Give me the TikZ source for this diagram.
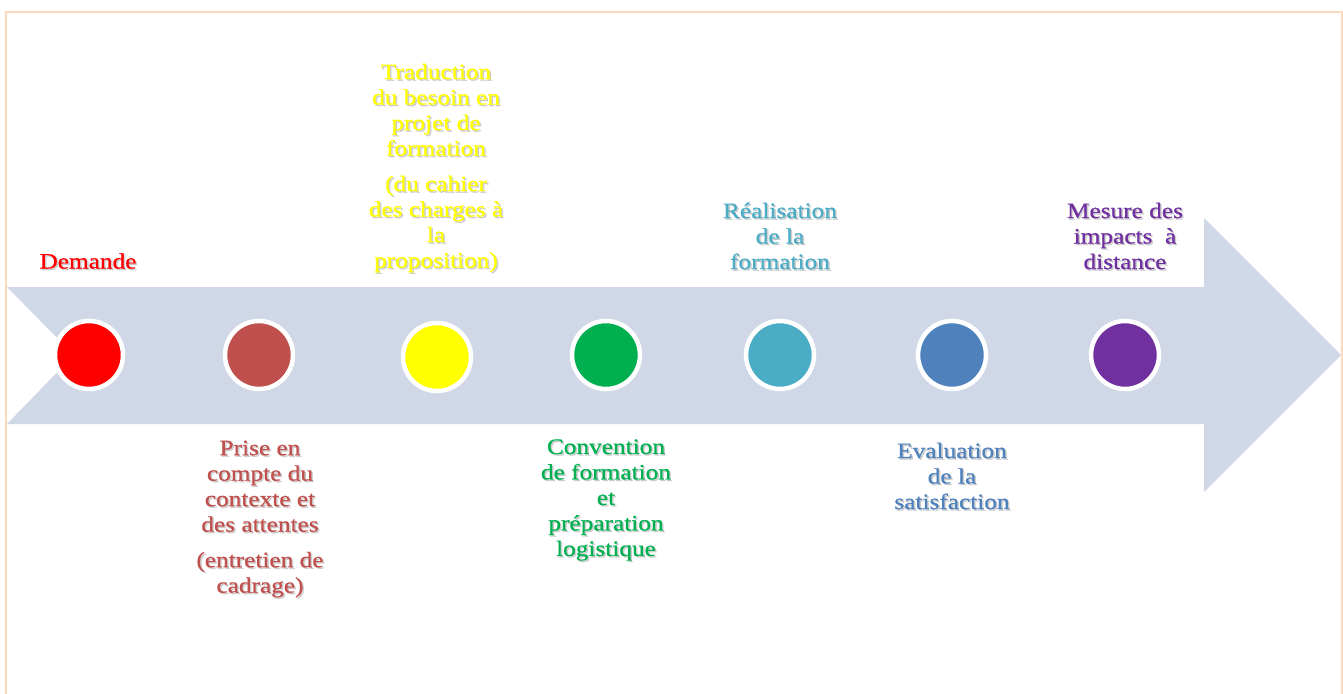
\documentclass[tikz,border=0pt]{standalone}
\usepackage{fontspec}
\setmainfont{Liberation Serif}[FakeStretch=1.15,FakeBold=0.8]
\definecolor{frame}{HTML}{FBD9BC}
\definecolor{arrowfill}{HTML}{D0D8E8}
\definecolor{cA}{HTML}{FF0000}
\definecolor{cB}{HTML}{C0504D}
\definecolor{cC}{HTML}{FFFF00}
\definecolor{cD}{HTML}{00B050}
\definecolor{cE}{HTML}{4BACC6}
\definecolor{cF}{HTML}{4F81BD}
\definecolor{cG}{HTML}{7030A0}
\tikzset{
  dot/.style={circle, minimum size=68pt, inner sep=0pt, draw=white, line width=4.5pt},
  lbl/.style={align=center, font=\fontsize{22}{25.5}\selectfont, inner sep=0pt},
  shd/.style={lbl, text=black!40, opacity=0.45}
}
\begin{document}
\begin{tikzpicture}[x=1pt,y=-1pt]
\useasboundingbox (0,0) rectangle (1343,693);
\draw[frame, line width=2.5pt] (6,760) -- (6,12) -- (1342,12) -- (1342,760);
\fill[arrowfill] (7,287) -- (1204,287) -- (1204,218) -- (1341,355) -- (1204,492) -- (1204,424) -- (7,424) -- (74,355) -- cycle;
\node[dot, fill=cA] (c1) at (89,355) {};
\node[dot, fill=cB] (c2) at (259,355) {};
\node[dot, fill=cC] (c3) at (437,357) {};
\node[dot, fill=cD] (c4) at (606,355) {};
\node[dot, fill=cE] (c5) at (780,355) {};
\node[dot, fill=cF] (c6) at (952,355) {};
\node[dot, fill=cG] (c7) at (1125,355) {};
% shadows
\node[shd] (s1) at (89.5,262.5) {Demande};
\node[shd] (s2) at (261.5,520.5) {Prise en\\compte du\\contexte et\\des attentes\\[10pt](entretien de\\cadrage)};
\node[shd] (s3) at (437.5,169.5) {Traduction\\du besoin en\\projet de\\formation\\[10pt](du cahier\\des charges à\\la\\proposition)};
\node[shd] (s4) at (607.5,501.5) {Convention\\de formation\\et\\préparation\\logistique};
\node[shd] (s5) at (781.5,237.5) {Réalisation\\de la\\formation};
\node[shd] (s6) at (953.5,477.5) {Evaluation\\de la\\satisfaction};
\node[shd] (s7) at (1126.5,237.5) {Mesure des\\impacts~ à\\distance};
% labels
\node[lbl, text=cA] (t1) at (88,261) {Demande};
\node[lbl, text=cB] (t2) at (260,519) {Prise en\\compte du\\contexte et\\des attentes\\[10pt](entretien de\\cadrage)};
\node[lbl, text=cC] (t3) at (436,168) {Traduction\\du besoin en\\projet de\\formation\\[10pt](du cahier\\des charges à\\la\\proposition)};
\node[lbl, text=cD] (t4) at (606,500) {Convention\\de formation\\et\\préparation\\logistique};
\node[lbl, text=cE] (t5) at (780,236) {Réalisation\\de la\\formation};
\node[lbl, text=cF] (t6) at (952,476) {Evaluation\\de la\\satisfaction};
\node[lbl, text=cG] (t7) at (1125,236) {Mesure des\\impacts~ à\\distance};
\end{tikzpicture}
\end{document}
